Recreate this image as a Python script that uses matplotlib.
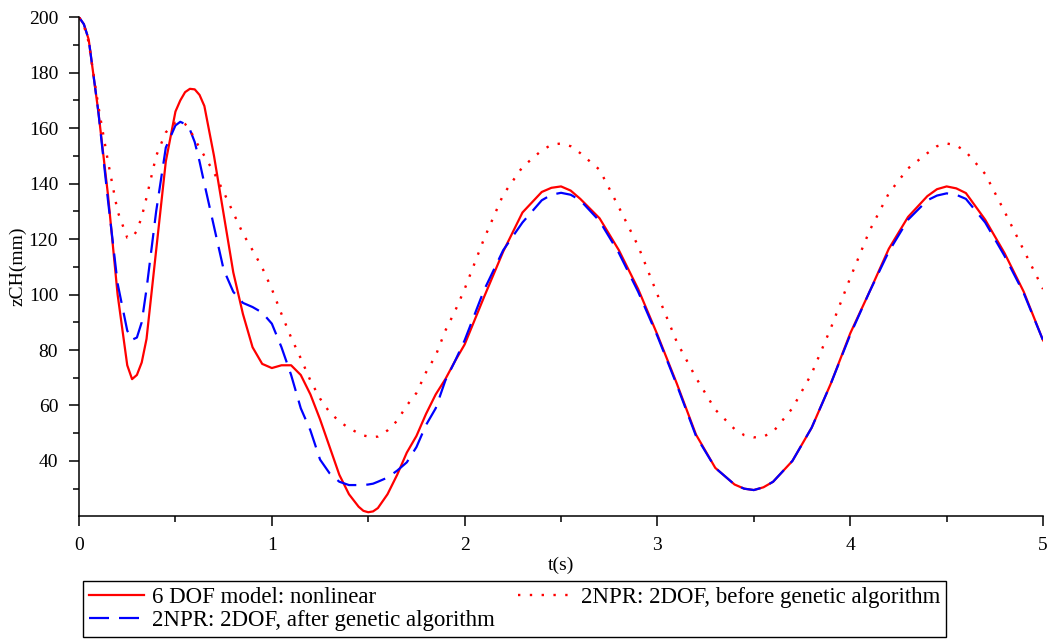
import matplotlib
matplotlib.use("Agg")
import matplotlib.pyplot as plt
from matplotlib.ticker import MultipleLocator

# time samples (s)
t = [0.00, 0.025, 0.05, 0.10, 0.15, 0.20, 0.25, 0.275, 0.30, 0.325, 0.35, 0.40, 0.45,
     0.50, 0.525, 0.55, 0.575, 0.60, 0.625, 0.65, 0.70, 0.75, 0.80, 0.85, 0.90, 0.95,
     1.00, 1.05, 1.10, 1.15, 1.20, 1.25, 1.30, 1.35, 1.40, 1.45, 1.475,
     1.50, 1.525, 1.55, 1.60, 1.65, 1.70, 1.75, 1.80, 1.85, 1.90, 1.95,
     2.00, 2.1, 2.2, 2.3, 2.4, 2.45, 2.5, 2.55, 2.6, 2.7, 2.8, 2.9,
     3.0, 3.1, 3.2, 3.3, 3.4, 3.45, 3.5, 3.55, 3.6, 3.7, 3.8, 3.9,
     4.0, 4.1, 4.2, 4.3, 4.4, 4.45, 4.5, 4.55, 4.6, 4.7, 4.8, 4.9, 5.0]

# 6 DOF model: nonlinear
z_6dof = [200, 197.5, 192, 166, 136, 100, 74.5, 69.5, 71, 75.5, 84, 116, 148,
          166, 170, 173, 174.2, 174, 172, 168, 150, 129, 108, 93, 81, 75,
          73.5, 74.5, 74.5, 71, 64, 55, 45, 35, 28, 23.5, 22,
          21.5, 21.8, 23, 28, 35, 43, 49, 57, 64, 69.5, 76,
          82, 99, 115.5, 129.6, 137, 138.5, 139, 137.5, 134.5, 127.5, 116, 102,
          85.5, 68, 49.5, 37.5, 31.5, 30, 29.5, 30.5, 32.5, 40, 52, 68,
          86, 101, 116.5, 128, 135.5, 138, 139, 138.3, 136.6, 127, 115, 101, 83.5]

# 2NPR: 2DOF, after genetic algorithm
z_after = [200, 197.5, 192, 166, 134, 104, 87, 83.7, 84.5, 90, 102, 130, 153,
           161, 162.3, 161.5, 159.5, 155, 148, 140, 124.5, 109, 101, 97, 95.5, 93.5,
           89.5, 81, 71, 59, 51, 40.5, 35.5, 32.5, 31.3, 31.3, 31.3,
           31.5, 31.8, 32.5, 34, 36.5, 39.5, 45, 53, 59, 69, 76,
           83.5, 101.5, 116, 126, 134, 136, 136.7, 136, 134, 126.5, 115, 101,
           85, 67.5, 49, 37.5, 31.5, 30, 29.5, 30.5, 32.5, 40, 52, 68,
           85.5, 101, 115.5, 127, 134, 135.7, 136.5, 136, 134.5, 126, 114, 100.5, 83.5]

# 2NPR: 2DOF, before genetic algorithm
z_before = [200, 197, 191, 168, 148, 130, 120.5, 120.5, 123, 128, 135, 150, 158.5,
            162, 162.3, 161.5, 159.5, 156, 153, 150, 144, 137, 129.5, 122, 116, 109.7,
            102, 93, 84.5, 77, 69, 62.5, 57.5, 54.3, 51.8, 50, 49.2,
            48.8, 48.6, 48.8, 51, 54.5, 60, 64.5, 72, 78, 87, 94,
            102, 120, 136, 146, 152, 154, 154.5, 153.5, 151, 145, 131.5, 117.5,
            100, 83, 70, 58.5, 51.5, 49.3, 48.5, 48.8, 50.5, 59, 71.5, 88,
            106, 123, 136.5, 145.5, 151, 153.5, 154.5, 153.8, 151.5, 143.5, 130, 116, 102]

plt.rcParams['font.family'] = ['Liberation Serif', 'DejaVu Serif']

fig = plt.figure(figsize=(10.47, 6.4), dpi=100)
ax = fig.add_axes([0.0755, 0.194, 0.9207, 0.779])

ax.plot(t, z_6dof, color='#ff0000', lw=1.6, label='6 DOF model: nonlinear')
ax.plot(t, z_after, color='#0000ff', lw=1.6, linestyle=(0, (9, 4.5)),
        label='2NPR: 2DOF, after genetic algorithm')
ax.plot(t, z_before, color='#ff0000', lw=1.7, linestyle=(0, (1, 4)),
        label='2NPR: 2DOF, before genetic algorithm')

ax.set_xlim(0, 5)
ax.set_ylim(20.2, 200)
ax.xaxis.set_major_locator(MultipleLocator(1))
ax.xaxis.set_minor_locator(MultipleLocator(0.5))
ax.yaxis.set_minor_locator(MultipleLocator(10))
ax.set_yticks([40, 60, 80, 100, 120, 140, 160, 180, 200])

for side in ['top', 'right']:
    ax.spines[side].set_visible(False)
for side in ['left', 'bottom']:
    ax.spines[side].set_linewidth(1.1)
ax.tick_params(which='major', length=7, width=1.1, labelsize=14, pad=8)
ax.tick_params(which='minor', length=4, width=1.1)

ax.set_xlabel('t(s)', fontsize=14, labelpad=2)
ax.set_ylabel('zCH(mm)', fontsize=14, labelpad=0)
ax.yaxis.set_label_coords(-0.055, 0.5)

fig.legend(loc='lower left', bbox_to_anchor=(0.0793, 0.005), ncol=2,
           fontsize=16.5, frameon=True, fancybox=False, edgecolor='black',
           framealpha=1, borderaxespad=0, handlelength=2.4, handletextpad=0.35,
           columnspacing=1.0, borderpad=0.25, labelspacing=0.1)

fig.savefig('out.png', dpi=100)
